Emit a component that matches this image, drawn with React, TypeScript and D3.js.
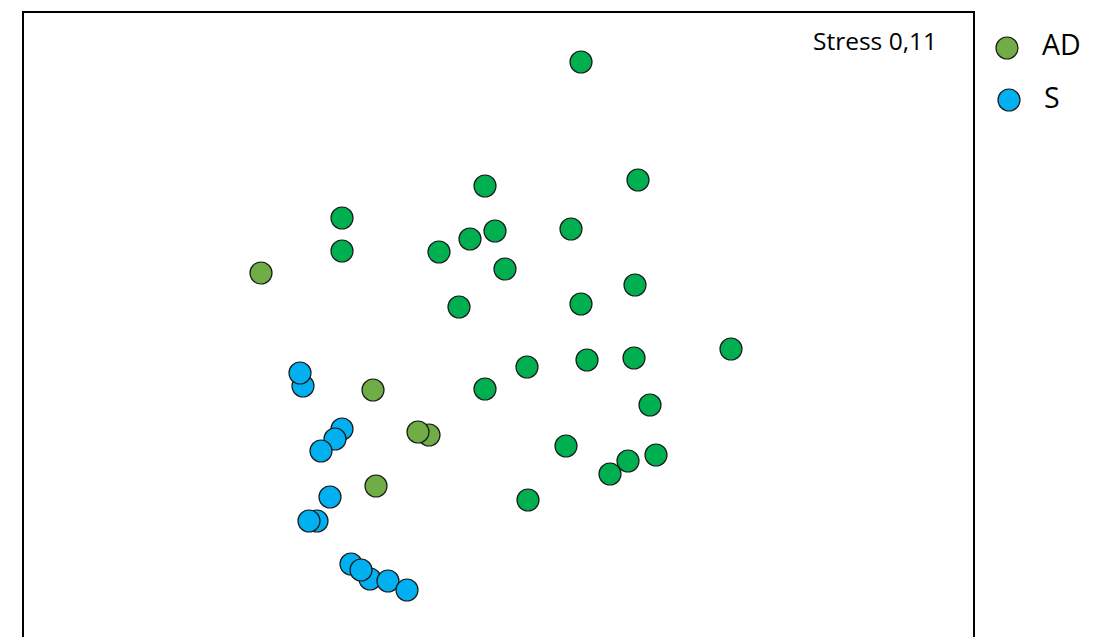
import React from "react";
import * as d3 from "d3";

// MDS coordinates (arbitrary units)
const otherX = [0.83, 1.40, -0.13, -1.56, 0.73, -0.03, -0.28, -1.56, -0.59, 0.07, 1.37, 0.83, -0.39, 2.33, 0.29, -0.13, 0.89, 1.36, 1.52, 0.68, 1.58, 1.30, 1.12, 0.30];
const otherY = [2.68, 1.50, 1.44, 1.12, 1.01, 0.99, 0.91, 0.79, 0.78, 0.61, 0.45, 0.26, 0.23, -0.19, -0.37, -0.59, -0.30, -0.28, -0.75, -1.16, -1.25, -1.31, -1.44, -1.70];

const adX = [-2.37, -1.25, -0.69, -0.80, -1.22];
const adY = [0.57, -0.60, -1.05, -1.02, -1.56];

const sX = [-1.95, -1.98, -1.56, -1.63, -1.77, -1.68, -1.81, -1.89, -1.47, -1.28, -1.37, -1.10, -0.91];
const sY = [-0.56, -0.43, -0.99, -1.09, -1.21, -1.67, -1.91, -1.91, -2.34, -2.49, -2.40, -2.51, -2.60];

const legendLabels = ["AD", "S"];
const stressLabel = "Stress 0,11";

const W = 1107;
const H = 637;
const box = { left: 23, right: 974, top: 12, bottom: 662 };

const xScale = d3.scaleLinear().domain([-4.75, 4.76]).range([box.left, box.right]);
const yScale = d3.scaleLinear().domain([3.18, -3.32]).range([box.top, box.bottom]);

const COL_OTHER = "#00B050";
const COL_AD = "#70AD47";
const COL_S = "#00B0F0";
const R = 11;

function Dots({ xs, ys, fill }: { xs: number[]; ys: number[]; fill: string }) {
  return (
    <g>
      {xs.map((x, i) => (
        <circle key={i} cx={xScale(x)} cy={yScale(ys[i])} r={R} fill={fill} stroke="#1a1a1a" strokeWidth={1.2} />
      ))}
    </g>
  );
}

export default function App() {
  return (
    <svg width={W} height={H} style={{ position: "absolute", left: 0, top: 0, display: "block", background: "#fff" }}>
      <rect x={box.left} y={box.top} width={box.right - box.left} height={box.bottom - box.top} fill="none" stroke="#000" strokeWidth={2} />
      <Dots xs={otherX} ys={otherY} fill={COL_OTHER} />
      <Dots xs={adX} ys={adY} fill={COL_AD} />
      <Dots xs={sX} ys={sY} fill={COL_S} />
      <text x={813} y={49.5} fontFamily="'Open Sans', sans-serif" fontSize={24.5} fill="#000">{stressLabel}</text>
      <g>
        <circle cx={1007} cy={48} r={11} fill={COL_AD} stroke="#1a1a1a" strokeWidth={1.2} />
        <text x={1042} y={54.5} fontFamily="'Open Sans', sans-serif" fontSize={28.5} fill="#000">{legendLabels[0]}</text>
        <circle cx={1009} cy={100} r={11} fill={COL_S} stroke="#1a1a1a" strokeWidth={1.2} />
        <text x={1044} y={108} fontFamily="'Open Sans', sans-serif" fontSize={28.5} fill="#000">{legendLabels[1]}</text>
      </g>
    </svg>
  );
}
